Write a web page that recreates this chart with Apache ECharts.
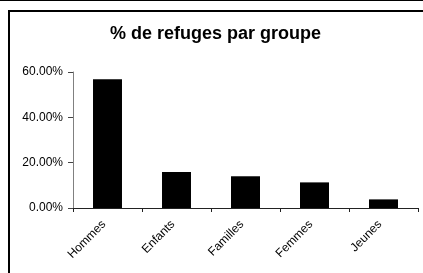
<!DOCTYPE html>
<html>
<head>
<meta charset="utf-8">
<script src="https://cdn.jsdelivr.net/npm/echarts@6/dist/echarts.min.js"></script>
<style>
  html, body { margin: 0; padding: 0; background: #fff; }
  #chart { width: 423px; height: 273px; }
</style>
</head>
<body>
<div id="chart"></div>
<script>
const categories = ['Hommes', 'Enfants', 'Familles', 'Femmes', 'Jeunes'];
const shares = [56.8, 15.9, 14.0, 11.3, 3.8];
const yTicks = [0, 20, 40, 60];

const chart = echarts.init(document.getElementById('chart'));

chart.setOption({
    backgroundColor: '#fff',
    animation: false,
    title: {
        text: '% de refuges par groupe',
        left: 105,
        top: 20,
        textStyle: { fontFamily: 'Liberation Sans', fontSize: 18, fontWeight: 'bold', color: '#000' }
    },
    graphic: [
        { type: 'line', shape: { x1: 0, y1: 0.5, x2: 423, y2: 0.5 }, style: { stroke: '#000', lineWidth: 1 } },
        { type: 'rect', shape: { x: 9, y: 11, width: 440, height: 300 }, style: { fill: null, stroke: '#000', lineWidth: 2 } }
    ],
    grid: { left: 73, right: 5, top: 72, bottom: 65 },
    xAxis: {
        type: 'category',
        data: categories,
        axisLine: { lineStyle: { color: '#222', width: 1 } },
        axisTick: { show: true, length: 4, lineStyle: { color: '#222' } },
        axisLabel: {
            rotate: 45,
            margin: 11,
            interval: 0,
            padding: [0, 5, 0, 0],
            fontFamily: 'Liberation Sans',
            fontSize: 12,
            color: '#000'
        }
    },
    yAxis: {
        type: 'value',
        min: yTicks[0],
        max: yTicks[yTicks.length - 1],
        interval: 20,
        axisLine: { show: true, lineStyle: { color: '#808080', width: 1 } },
        axisTick: { show: true, length: 5, lineStyle: { color: '#444' } },
        splitLine: { show: false },
        axisLabel: {
            margin: 10,
            fontFamily: 'Liberation Sans',
            fontSize: 12,
            color: '#000',
            formatter: v => v.toFixed(2) + '%'
        }
    },
    series: [{
        type: 'bar',
        data: shares,
        barWidth: '42%',
        itemStyle: { color: '#000' }
    }]
});
</script>
</body>
</html>
